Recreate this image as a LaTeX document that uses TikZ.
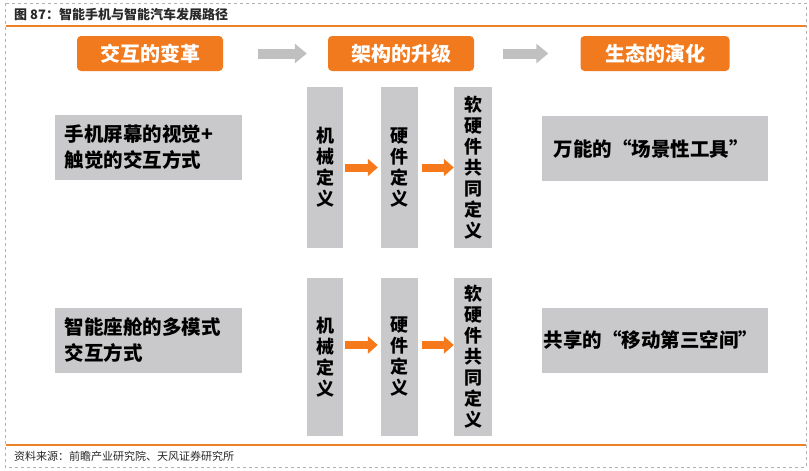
\documentclass[tikz,border=0pt]{standalone}
\usepackage{fontspec}
\setmainfont{Noto Sans CJK SC}
\usetikzlibrary{arrows.meta}
\definecolor{hdr}{RGB}{242,122,30}
\definecolor{oline}{RGB}{238,128,40}
\definecolor{gbox}{RGB}{201,201,203}
\definecolor{garr}{RGB}{192,192,192}
\definecolor{oarr}{RGB}{246,122,28}
\definecolor{txt}{RGB}{40,40,40}
\tikzset{
  hdrbox/.style={fill=hdr, rounded corners=4pt, minimum height=35pt, inner sep=0pt,
    text=white, font=\fontsize{20}{24}\selectfont\bfseries},
  sidebox/.style={fill=gbox, minimum height=65pt, inner sep=0pt,
    font=\fontsize{19.5}{26}\selectfont\bfseries, text=black},
  colbox/.style={fill=gbox, inner sep=0pt, align=center,
    font=\fontsize{18}{21}\selectfont\bfseries, text=black},
  grayarrow/.style={draw=garr, line width=10pt, -{Triangle[length=12pt,width=19pt]}},
  orangearrow/.style={draw=oarr, line width=8pt, -{Triangle[length=10pt,width=17pt]}},
  rulerline/.style={draw=oline, line width=1.2pt},
}
\begin{document}
\begin{tikzpicture}[x=1pt,y=-1pt]
\useasboundingbox (0,0) rectangle (809,471);
\draw[gray!60, dashed, line width=0.6pt] (5,3) rectangle (806,467);
\draw[rulerline] (6,26) -- (806,26);
\draw[rulerline] (6,445) -- (806,445);
\node[anchor=west, inner sep=0pt, text=txt, font=\fontsize{13}{15}\selectfont\bfseries] (title) at (14,15) {图 87：智能手机与智能汽车发展路径};
\node[anchor=west, inner sep=0pt, text=txt, font=\fontsize{11}{13}\selectfont] (source) at (14,456) {资料来源：前瞻产业研究院、天风证券研究所};
% header boxes
\node[hdrbox, minimum width=146pt] (h1) at (150,53.5) {交互的变革};
\node[hdrbox, minimum width=146pt] (h2) at (401,53.5) {架构的升级};
\node[hdrbox, minimum width=149pt] (h3) at (655,53.5) {生态的演化};
\draw[grayarrow, shorten <=35pt, shorten >=21pt] (h1) -- (h2);
\draw[grayarrow, shorten <=29pt, shorten >=32pt] (h2) -- (h3);
% side boxes
\node[sidebox, minimum width=187pt, text width=167pt, inner xsep=10pt, align=left] (l1) at (148,147.5) {手机屏幕的视觉+\\触觉的交互方式};
\node[sidebox, minimum width=187pt, text width=167pt, inner xsep=10pt, align=left] (l2) at (148,340) {智能座舱的多模式\\交互方式};
\node[sidebox, minimum width=226pt] (r1) at (655,148.5) {\hspace*{-8pt}万能的“场景性工具”};
\node[sidebox, minimum width=226pt] (r2) at (655,340) {\hspace*{-8pt}共享的“移动第三空间”};
% top columns
\node[colbox, minimum width=36pt, minimum height=161pt] (a1) at (325,167.5) {机\\械\\定\\义};
\node[colbox, minimum width=37pt, minimum height=161pt] (a2) at (399.5,167.5) {硬\\件\\定\\义};
\node[colbox, minimum width=38pt, minimum height=161pt] (a3) at (473,167.5) {软\\硬\\件\\共\\同\\定\\义};
\draw[orangearrow, shorten <=2pt, shorten >=3pt] (a1) -- (a2);
\draw[orangearrow, shorten <=4pt, shorten >=0pt] (a2) -- (a3);
% bottom columns
\node[colbox, minimum width=36pt, minimum height=158pt] (b1) at (325,357) {机\\械\\定\\义};
\node[colbox, minimum width=37pt, minimum height=158pt] (b2) at (399.5,357) {硬\\件\\定\\义};
\node[colbox, minimum width=38pt, minimum height=158pt] (b3) at (473,357) {软\\硬\\件\\共\\同\\定\\义};
\draw[orangearrow, shorten <=2pt, shorten >=3pt] ([yshift=12pt]b1.east) -- ([yshift=12pt]b2.west);
\draw[orangearrow, shorten <=4pt, shorten >=0pt] ([yshift=12pt]b2.east) -- ([yshift=12pt]b3.west);
\end{tikzpicture}
\end{document}
